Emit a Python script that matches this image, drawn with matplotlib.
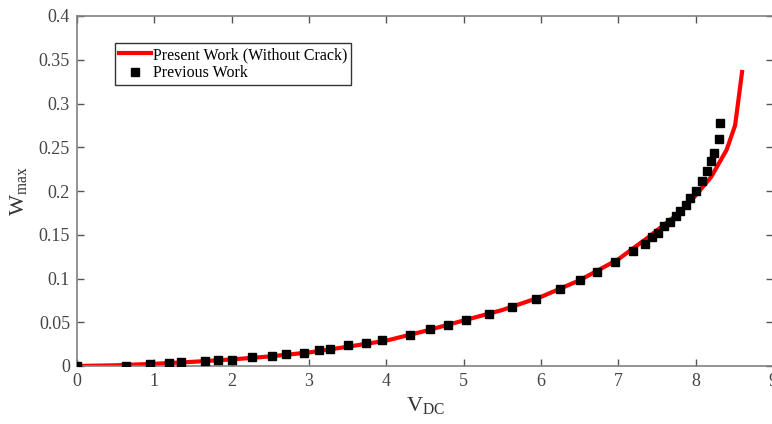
import matplotlib
matplotlib.use('Agg')
from matplotlib import pyplot as plt
from matplotlib.ticker import FuncFormatter

# present work (red curve)
present_v = [0, 0.5, 1, 1.5, 2, 2.5, 3, 3.5, 4, 4.5, 5, 5.5, 6, 6.5, 7,
             7.4, 7.8, 8.0, 8.2, 8.4, 8.51, 8.6]
present_w = [0, 0.0008, 0.0025, 0.0048, 0.0075, 0.011, 0.0155, 0.022, 0.029,
             0.040, 0.052, 0.064, 0.079, 0.098, 0.122, 0.148, 0.176, 0.195,
             0.216, 0.247, 0.275, 0.336]

# previous work (black squares)
prev_v = [0, 0.64, 0.94, 1.19, 1.35, 1.65, 1.82, 2.0, 2.26, 2.52, 2.70, 2.93,
          3.13, 3.27, 3.50, 3.74, 3.95, 4.30, 4.56, 4.80, 5.03, 5.33, 5.62,
          5.93, 6.25, 6.50, 6.73, 6.96, 7.19, 7.34, 7.43, 7.51, 7.59, 7.67,
          7.74, 7.80, 7.87, 7.93, 8.0, 8.08, 8.15, 8.20, 8.24, 8.30, 8.32]
prev_w = [0, 0.0004, 0.002, 0.003, 0.0046, 0.0057, 0.0065, 0.0069, 0.0099,
          0.0118, 0.0133, 0.0148, 0.0179, 0.0194, 0.024, 0.0263, 0.0295,
          0.036, 0.0423, 0.0469, 0.0522, 0.0594, 0.0674, 0.077, 0.088, 0.0987,
          0.1078, 0.1189, 0.131, 0.140, 0.148, 0.152, 0.160, 0.165, 0.171,
          0.177, 0.184, 0.192, 0.200, 0.211, 0.223, 0.234, 0.244, 0.259, 0.278]

plt.rcParams['font.family'] = 'Liberation Serif'
plt.rcParams['mathtext.fontset'] = 'custom'
plt.rcParams['mathtext.rm'] = 'Liberation Serif'

fig = plt.figure(figsize=(7.72, 4.24), dpi=100)
ax = fig.add_axes([77 / 772, 58 / 424, 696 / 772, 350 / 424])

ax.plot(present_v, present_w, '-', color='red', linewidth=3,
        label='Present Work (Without Crack)', zorder=2)
ax.plot(prev_v, prev_w, 's', color='black', markersize=6,
        label='Previous Work', zorder=3)

ax.set_xlim(0, 9)
ax.set_ylim(0, 0.4)
ax.set_xticks(range(10))
ax.set_yticks([0, 0.05, 0.1, 0.15, 0.2, 0.25, 0.3, 0.35, 0.4])
ax.yaxis.set_major_formatter(FuncFormatter(lambda v, p: '%g' % round(v, 2)))
ax.tick_params(direction='in', length=5, width=1, colors='#555555',
               labelcolor='#444444', labelsize=13, top=True, right=True,
               pad=5)

for s in ax.spines.values():
    s.set_color('#808080')
    s.set_linewidth(1.2)

ax.set_xlabel(r'V$_{\mathrm{DC}}$', fontsize=16, color='#333333', labelpad=4)
ax.set_ylabel(r'W$_{\mathrm{max}}$', fontsize=16, color='#333333', labelpad=6)

leg = ax.legend(loc='upper left', bbox_to_anchor=(0.0546, 0.923),
                fontsize=11.5, frameon=True, fancybox=False, borderpad=0.25,
                handlelength=2.0, handletextpad=0.1, labelspacing=0.15,
                borderaxespad=0)
leg.get_frame().set_edgecolor('black')
leg.get_frame().set_linewidth(1)

fig.savefig('out.png', dpi=100)
